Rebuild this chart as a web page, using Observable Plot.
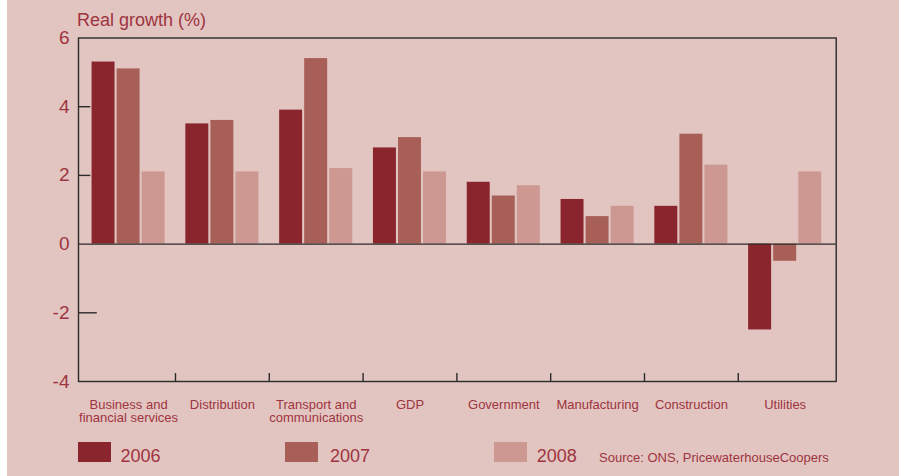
<!DOCTYPE html>
<html>
<head>
<meta charset="utf-8">
<script src="https://cdn.jsdelivr.net/npm/d3@7"></script>
<script src="https://cdn.jsdelivr.net/npm/@observablehq/plot@0.6"></script>
<style>
  html, body { margin: 0; padding: 0; background: #ffffff; }
  #wrap { position: relative; width: 899px; height: 476px; overflow: hidden; }
  #bg { position: absolute; left: 7px; top: 0; width: 892px; height: 476px; background: #e2c5c0; }
  #chart { position: absolute; left: 0; top: 0; }
  .t { position: absolute; font-family: "Liberation Sans", Arial, Helvetica, sans-serif; color: #9e3440; white-space: nowrap; }
  #title { left: 77px; top: 10.8px; font-size: 18px; line-height: 18px; }
  .sw { position: absolute; top: 442px; width: 33px; height: 20px; }
  .lg { font-size: 18px; line-height: 18px; top: 446.5px; }
  #source { left: 599px; top: 450.7px; font-size: 13px; line-height: 13px; }
</style>
</head>
<body>
<div id="wrap">
  <div id="bg"></div>
  <div id="chart"></div>
  <div class="t" id="title">Real growth (%)</div>
  <div id="legend"></div>
  <div class="t" id="source">Source: ONS, PricewaterhouseCoopers</div>
</div>
<script>
// ---- data ----
const categories = [
  "Business and\nfinancial services",
  "Distribution",
  "Transport and\ncommunications",
  "GDP",
  "Government",
  "Manufacturing",
  "Construction",
  "Utilities"
];
const years = ["2006", "2007", "2008"];
const growth2006 = [5.3, 3.5, 3.9, 2.8, 1.8, 1.3, 1.1, -2.5];
const growth2007 = [5.1, 3.6, 5.4, 3.1, 1.4, 0.8, 3.2, -0.5];
const growth2008 = [2.1, 2.1, 2.2, 2.1, 1.7, 1.1, 2.3, 2.1];
const yTicks = [-4, -2, 0, 2, 4, 6];
const colors = ["#8b252d", "#a85f58", "#ce9892"];

// ---- table ----
const series = [growth2006, growth2007, growth2008];
const rows = [];
categories.forEach((c, i) => {
  years.forEach((yr, j) => rows.push({cat: c, i, year: yr, j, value: series[j][i]}));
});

const barW = 0.245, step = 0.267;
const textColor = "#9e3440";
const lineColor = "#2b2b2b";
const xMin = -0.034, xMax = 8.044;

const chart = Plot.plot({
  width: 899,
  height: 476,
  marginLeft: 78,
  marginRight: 63.3,
  marginTop: 37.5,
  marginBottom: 95,
  style: {background: "transparent", fontFamily: "Liberation Sans, Arial, Helvetica, sans-serif"},
  x: {domain: [xMin, xMax], axis: null},
  y: {domain: [-4, 6], axis: null},
  color: {domain: years, range: colors},
  marks: [
    Plot.rect(rows, {
      x1: d => d.i + 0.5 + (d.j - 1) * step - barW / 2,
      x2: d => d.i + 0.5 + (d.j - 1) * step + barW / 2,
      y1: 0,
      y2: "value",
      fill: "year"
    }),
    Plot.ruleY([0], {stroke: lineColor, strokeWidth: 1.4}),
    Plot.ruleY([2, 4], {x1: xMin, x2: xMin + 0.131, stroke: lineColor, strokeWidth: 1.4}),
    Plot.ruleY([-2], {x1: xMin, x2: xMin + 0.2, stroke: lineColor, strokeWidth: 1.4}),
    Plot.ruleX(d3.range(1, categories.length), {y1: -4, y2: -3.77, stroke: lineColor, strokeWidth: 1.4}),
    Plot.frame({stroke: lineColor, strokeWidth: 1.4}),
    Plot.axisY({ticks: yTicks, tickSize: 0, tickPadding: 9, fontSize: 19, color: textColor, label: null, tickFormat: d => String(d)}),
    Plot.text(categories.map((c, i) => ({c, i})), {
      x: d => d.i + 0.5,
      y: -4,
      text: "c",
      dy: 17.5,
      lineAnchor: "top",
      lineHeight: 1.05,
      fontSize: 13,
      fill: textColor
    })
  ]
});
document.getElementById("chart").appendChild(chart);

// ---- legend ----
const legend = document.getElementById("legend");
const swLeft = [78, 285, 494];
const txLeft = [120.5, 330, 536.7];
years.forEach((yr, j) => {
  const s = document.createElement("div");
  s.className = "sw";
  s.style.left = swLeft[j] + "px";
  s.style.background = colors[j];
  legend.appendChild(s);
  const t = document.createElement("div");
  t.className = "t lg";
  t.style.left = txLeft[j] + "px";
  t.textContent = yr;
  legend.appendChild(t);
});
</script>
</body>
</html>
